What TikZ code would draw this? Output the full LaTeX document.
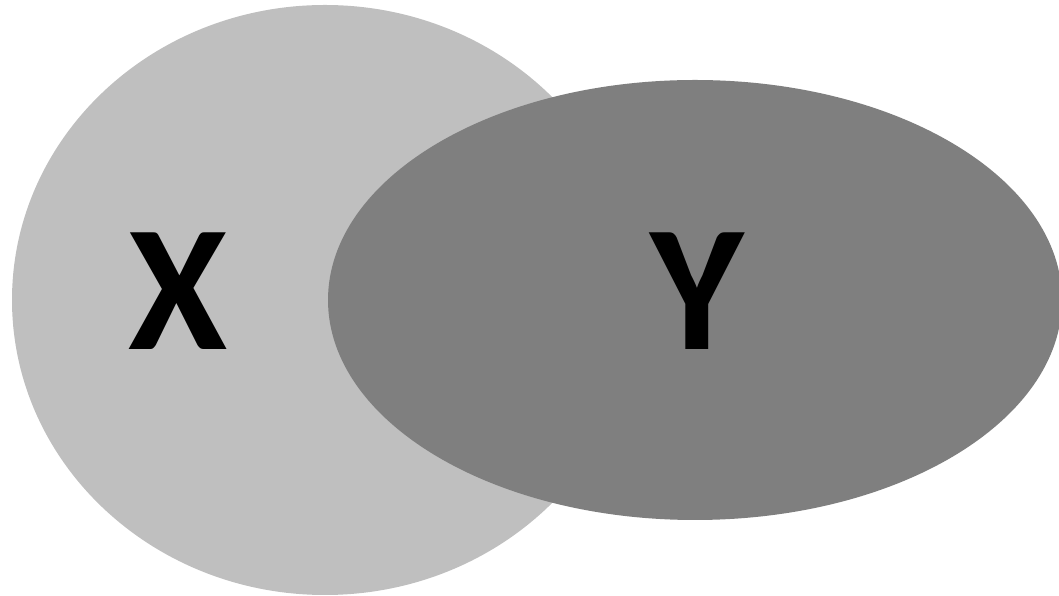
\documentclass[tikz,border=0pt]{standalone}
\usepackage{fontspec}
\setmainfont{Carlito}
\usetikzlibrary{shapes.geometric}
\definecolor{VennLight}{RGB}{191,191,191}
\definecolor{VennDark}{RGB}{127,127,127}
\tikzset{
  venn set/.style={ellipse, inner sep=0pt, outer sep=0pt, draw=none},
  venn light/.style={venn set, fill=VennLight},
  venn dark/.style={venn set, fill=VennDark},
  venn label/.style={inner sep=0pt, anchor=base, text=black,
    font=\fontsize{180pt}{184pt}\selectfont\bfseries}
}
\begin{document}
\begin{tikzpicture}[x=1pt,y=1pt]
\useasboundingbox (0,0) rectangle (1059,596);
\node[venn light, minimum width=626pt, minimum height=590pt] (setx) at (325,296) {};
\node[venn dark, minimum width=734pt, minimum height=440pt] (sety) at (695,296) {};
\node[venn label] (labx) at (178,246) {X};
\node[venn label] (laby) at (697,246) {Y};
\end{tikzpicture}
\end{document}
